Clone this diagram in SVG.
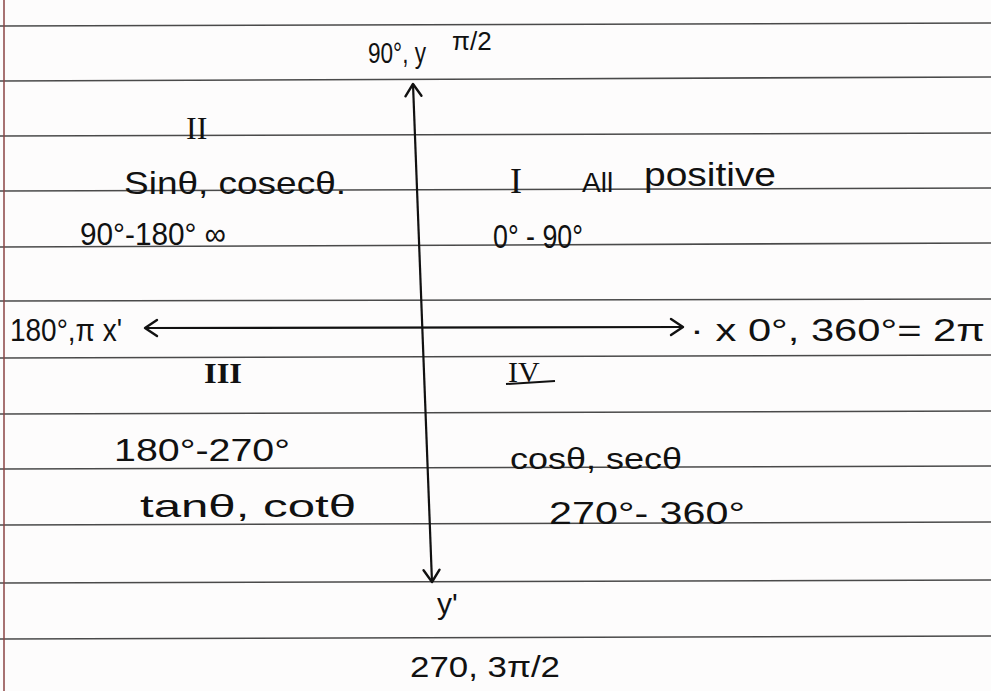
<svg xmlns="http://www.w3.org/2000/svg" width="991" height="691" viewBox="0 0 991 691">
<style>
  .rule { stroke: #4a4a4a; stroke-width: 1.6; fill: none; }
  .t { font-family: "Liberation Sans", "DejaVu Sans", sans-serif; fill: #111; }
  .r { font-family: "Liberation Serif", "DejaVu Serif", serif; fill: #111; }
  .axis { stroke: #111; stroke-width: 2.2; fill: none; }
</style>
<defs>
  <marker id="arr" viewBox="-14 -10 16 20" refX="0" refY="0" markerWidth="16" markerHeight="20" markerUnits="userSpaceOnUse" orient="auto-start-reverse">
    <path d="M-12,-8 L0,0 L-12,8" fill="none" stroke="#111" stroke-width="2.4" stroke-linecap="round" stroke-linejoin="round"/>
  </marker>
</defs>
<rect x="0" y="0" width="991" height="691" fill="#fdfcfc"/>
<g id="paper">
  <line class="rule" x1="0" y1="26" x2="991" y2="23"/>
  <line class="rule" x1="0" y1="81" x2="991" y2="77"/>
  <line class="rule" x1="0" y1="136" x2="991" y2="133"/>
  <line class="rule" x1="0" y1="191" x2="991" y2="188"/>
  <line class="rule" x1="0" y1="247" x2="991" y2="243"/>
  <line class="rule" x1="0" y1="301" x2="991" y2="299"/>
  <line class="rule" x1="0" y1="358" x2="991" y2="355"/>
  <line class="rule" x1="0" y1="414" x2="991" y2="411"/>
  <line class="rule" x1="0" y1="469" x2="991" y2="466"/>
  <line class="rule" x1="0" y1="525" x2="991" y2="522"/>
  <line class="rule" x1="0" y1="583" x2="991" y2="580"/>
  <line class="rule" x1="0" y1="639" x2="991" y2="636"/>
  <line x1="4" y1="0" x2="4" y2="691" stroke="#8a4444" stroke-width="1.5"/>
</g>
<g id="connectors">
  <line class="axis" x1="413" y1="84" x2="432" y2="582" marker-start="url(#arr)" marker-end="url(#arr)"/>
  <line class="axis" x1="145" y1="328" x2="683" y2="327" marker-start="url(#arr)" marker-end="url(#arr)"/>
</g>
<g id="y-top">
  <text class="t" x="368" y="63" font-size="29" textLength="58" lengthAdjust="spacingAndGlyphs">90°, y</text>
  <text class="t" x="452" y="50" font-size="26">π/2</text>
</g>
<g id="quad-II">
  <text class="r" x="186" y="139" font-size="32">II</text>
  <text class="t" x="124" y="194" font-size="32" textLength="222" lengthAdjust="spacingAndGlyphs">Sinθ, cosecθ.</text>
  <text class="t" x="80" y="245" font-size="32" textLength="146" lengthAdjust="spacingAndGlyphs">90°-180° ∞</text>
</g>
<g id="quad-I">
  <text class="r" x="510" y="193" font-size="36">I</text>
  <text class="t" x="582" y="192" font-size="28">All</text>
  <text class="t" x="644" y="186" font-size="34" textLength="132" lengthAdjust="spacingAndGlyphs">positive</text>
  <text class="t" x="493" y="248" font-size="34" textLength="90" lengthAdjust="spacingAndGlyphs">0° - 90°</text>
</g>
<g id="x-left">
  <text class="t" x="10" y="341" font-size="32" textLength="112" lengthAdjust="spacingAndGlyphs">180°,π x'</text>
</g>
<g id="x-right">
  <text class="t" x="690" y="341" font-size="32" textLength="295" lengthAdjust="spacingAndGlyphs">· x 0°, 360°= 2π</text>
</g>
<g id="quad-III">
  <text class="r" x="204" y="383" font-size="30" font-weight="bold" textLength="38" lengthAdjust="spacingAndGlyphs">III</text>
  <text class="t" x="114" y="461" font-size="32" textLength="176" lengthAdjust="spacingAndGlyphs">180°-270°</text>
  <text class="t" x="140" y="517" font-size="32" textLength="216" lengthAdjust="spacingAndGlyphs">tanθ, cotθ</text>
</g>
<g id="quad-IV">
  <text class="r" x="508" y="382" font-size="30">IV</text>
  <line x1="506" y1="384" x2="555" y2="381" stroke="#111" stroke-width="2"/>
  <text class="t" x="510" y="469" font-size="30" textLength="172" lengthAdjust="spacingAndGlyphs">cosθ, secθ</text>
  <text class="t" x="549" y="524" font-size="32" textLength="196" lengthAdjust="spacingAndGlyphs">270°- 360°</text>
</g>
<g id="y-bottom">
  <text class="t" x="437" y="614" font-size="30">y'</text>
  <text class="t" x="410" y="677" font-size="30" textLength="150" lengthAdjust="spacingAndGlyphs">270, 3π/2</text>
</g>
</svg>
